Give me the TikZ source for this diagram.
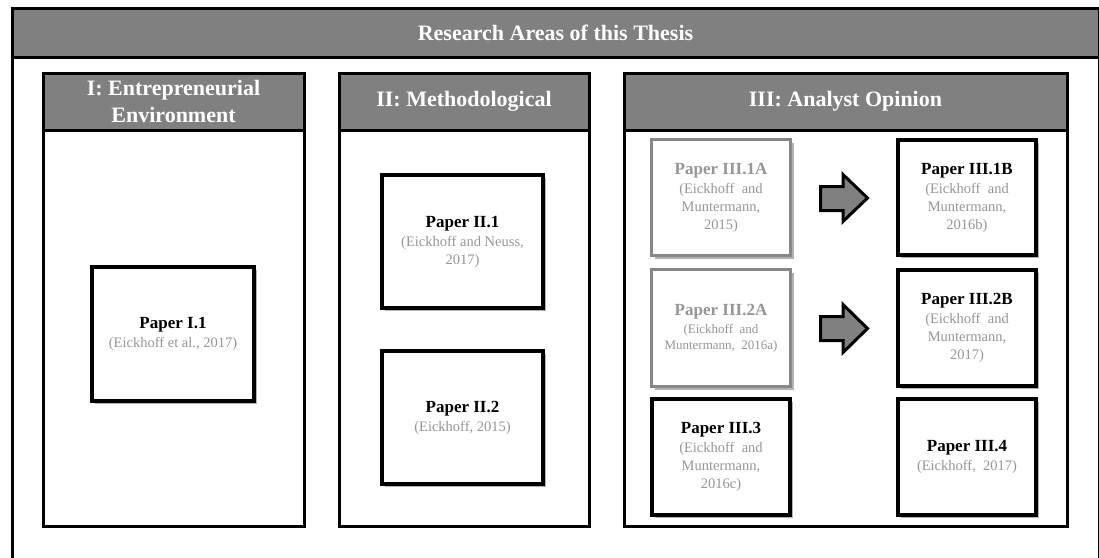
\documentclass[tikz,border=0pt]{standalone}
\usepackage{fontspec}
\setmainfont{Liberation Serif}
\usetikzlibrary{shadows}
\definecolor{hdgray}{RGB}{128,128,128}
\definecolor{citegray}{RGB}{150,150,150}
\definecolor{boxgray}{RGB}{135,135,135}
\tikzset{
  hd/.style={draw=black, line width=3pt, fill=hdgray, text=white, font=\bfseries\fontsize{22}{27}\selectfont, align=center, inner sep=0pt},
  panelbody/.style={draw=black, line width=3pt, fill=white, inner sep=0pt},
  paper/.style={draw=black, line width=4pt, fill=white, align=center, inner sep=0pt,
    font=\fontsize{14.5}{18}\selectfont, text=citegray,
    drop shadow={shadow xshift=3pt, shadow yshift=-3pt, opacity=0.3, fill=black}},
  paperg/.style={paper, draw=boxgray, line width=3pt},
  bigarrow/.style={draw=black, line width=3pt, fill=hdgray, line join=miter},
}
\newcommand{\ptitle}[1]{{\bfseries\fontsize{17}{18}\selectfont #1}}
\newcommand{\ptitleb}[1]{{\color{black}\bfseries\fontsize{17}{18}\selectfont #1}}
\begin{document}
\begin{tikzpicture}[x=1pt, y=-1pt]
\useasboundingbox (0,0) rectangle (1099,557);
\clip (0,0) rectangle (1099,557);
% outer frame
\node[panelbody, minimum width=1087pt, minimum height=600pt, anchor=north west] (outer) at (10.5,7) {};
\node[hd, minimum width=1087pt, minimum height=49pt, anchor=north west] (title) at (10.5,7) {Research Areas of this Thesis};
% panels
\node[panelbody, minimum width=261pt, minimum height=453pt, anchor=north west] (p1) at (41.5,71.5) {};
\node[hd, minimum width=261pt, minimum height=57pt, anchor=north west] (h1) at (41.5,71.5) {I: Entrepreneurial\\Environment};
\node[panelbody, minimum width=250pt, minimum height=453pt, anchor=north west] (p2) at (337.5,71.5) {};
\node[hd, minimum width=250pt, minimum height=57pt, anchor=north west] (h2) at (337.5,71.5) {II: Methodological};
\node[panelbody, minimum width=443pt, minimum height=453pt, anchor=north west] (p3) at (622.5,71.5) {};
\node[hd, minimum width=443pt, minimum height=57pt, anchor=north west] (h3) at (622.5,71.5) {III: Analyst Opinion};
% papers
\node[paper, minimum width=162pt, minimum height=134pt] (pI1) at (173,334) {\ptitleb{Paper I.1}\\[1pt](Eickhoff et al., 2017)};
\node[paper, minimum width=161pt, minimum height=133pt] (pII1) at (462.5,241.5) {\ptitleb{Paper II.1}\\[1pt](Eickhoff and Neuss,\\2017)};
\node[paper, minimum width=161pt, minimum height=133pt] (pII2) at (462.5,417.5) {\ptitleb{Paper II.2}\\[1pt](Eickhoff,\ 2015)};
\node[paperg, minimum width=139pt, minimum height=116pt] (pIII1A) at (721,197.5) {\ptitle{Paper III.1A}\\[1pt](Eickhoff\ \ and\\Muntermann,\\2015)};
\node[paper, minimum width=138pt, minimum height=115pt] (pIII1B) at (967,197.5) {\ptitleb{Paper III.1B}\\[1pt](Eickhoff\ \ and\\Muntermann,\\2016b)};
\node[paperg, minimum width=139pt, minimum height=117pt, font=\fontsize{13}{16}\selectfont] (pIII2A) at (721,328) {\ptitle{Paper III.2A}\\[2pt](Eickhoff\ \ and\\Muntermann,\ \ 2016a)};
\node[paper, minimum width=138pt, minimum height=116pt] (pIII2B) at (967,328) {\ptitleb{Paper III.2B}\\[1pt](Eickhoff\ \ and\\Muntermann,\\2017)};
\node[paper, minimum width=138pt, minimum height=116pt] (pIII3) at (721,457) {\ptitleb{Paper III.3}\\[1pt](Eickhoff\ \ and\\Muntermann,\\2016c)};
\node[paper, minimum width=138pt, minimum height=116pt] (pIII4) at (967,457) {\ptitleb{Paper III.4}\\[1pt](Eickhoff,\ \ 2017)};
% big arrows
\draw[bigarrow] (820.5,186.5) -- (843,186.5) -- (843,174.5) -- (867.5,198) -- (843,221.5) -- (843,210.5) -- (820.5,210.5) -- cycle;
\draw[bigarrow] (820.5,316.5) -- (843,316.5) -- (843,304.5) -- (867.5,328.5) -- (843,352.5) -- (843,340.5) -- (820.5,340.5) -- cycle;
\end{tikzpicture}
\end{document}
